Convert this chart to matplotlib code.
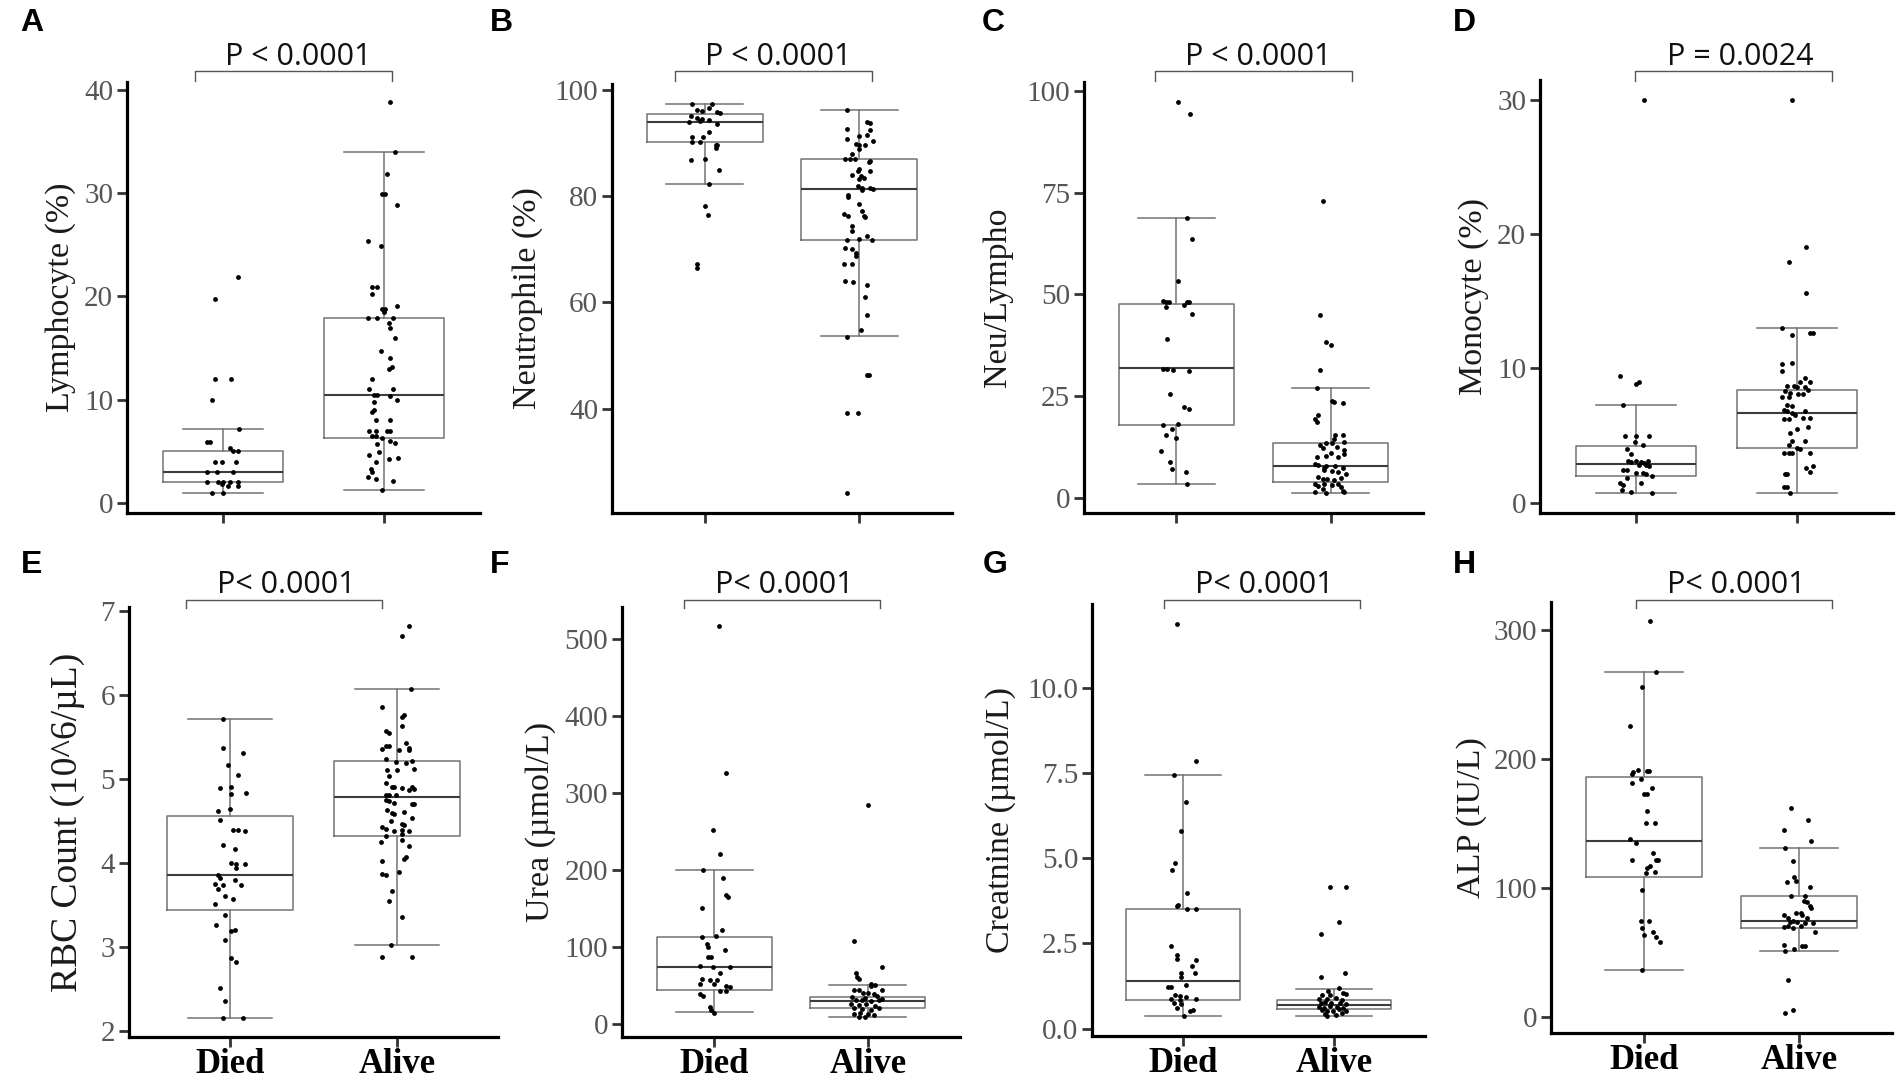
import matplotlib
matplotlib.use("Agg")
import matplotlib.pyplot as plt

plt.rcParams["font.family"] = "Liberation Serif"

W, H = 1902, 1079
groups = ["Died", "Alive"]

# A  Lymphocyte (%)
lym_died = [21.9, 19.8, 12.0, 12.0, 10.0, 7.1, 5.9, 5.9, 5.3, 5.0, 5.0, 3.9, 3.9, 3.9,
            3.0, 3.0, 3.0, 2.0, 2.0, 2.0, 2.0, 2.0, 1.8, 1.6, 1.6, 0.9, 0.9]
lym_died_jit = [0.09, -0.05, -0.05, 0.05, -0.07, 0.10, -0.10, -0.08, 0.04, 0.06, 0.09, -0.05, -0.01, 0.08,
                -0.10, -0.04, 0.06, -0.10, -0.03, 0.00, 0.04, 0.09, -0.01, 0.03, 0.09, -0.07, 0.00]
lym_alive = [38.9, 34.0, 31.9, 29.9, 29.9, 28.9, 25.4, 24.9, 20.9, 20.9, 20.2, 19.1, 18.8, 18.8, 18.5,
             17.9, 17.9, 17.9, 17.4, 16.9, 16.0, 14.7, 14.0, 13.2, 13.0, 12.0, 11.0, 11.0, 10.4, 10.4,
             10.3, 10.0, 9.8, 9.0, 8.8, 8.0, 8.0, 7.0, 7.0, 7.0, 7.0, 6.5, 6.5, 6.3, 6.0, 5.8, 5.7,
             4.9, 4.6, 4.3, 4.2, 3.9, 3.3, 3.0, 2.5, 2.3, 2.1, 1.2]
lym_alive_jit = [0.04, 0.07, 0.02, -0.01, 0.01, 0.08, -0.10, -0.02, -0.07, -0.04, -0.07, 0.08, -0.01, 0.01, 0.00,
                 -0.10, -0.04, 0.06, 0.03, 0.04, 0.07, -0.02, 0.04, 0.05, 0.03, -0.07, -0.09, 0.06, -0.06, -0.04,
                 0.04, 0.08, -0.06, -0.06, -0.07, -0.05, 0.04, -0.09, -0.05, 0.02, 0.04, -0.07, -0.05, -0.01, 0.04, 0.07, -0.04,
                 -0.03, -0.09, 0.09, 0.03, -0.05, -0.08, -0.07, -0.10, -0.05, 0.06, -0.01]
lym_box = [[0.9, 2.0, 3.0, 5.0, 7.1], [1.2, 6.3, 10.4, 17.9, 34.0]]

# B  Neutrophile (%)
neu_died = [97.4, 97.3, 96.3, 96.1, 96.5, 95.9, 95.6, 95.0, 94.7, 94.6, 94.4, 94.0, 94.1, 93.6, 92.0,
            91.1, 91.1, 90.2, 90.1, 89.7, 89.6, 89.1, 86.8, 87.0, 84.9, 82.2, 78.2, 76.4, 67.3, 66.5]
neu_died_jit = [-0.08, 0.05, -0.05, -0.02, 0.03, 0.08, 0.10, -0.09, -0.05, -0.02, 0.03, -0.10, -0.03, 0.08, 0.03,
                -0.08, -0.01, -0.08, -0.03, 0.07, 0.08, 0.07, -0.09, 0.00, 0.09, 0.03, 0.00, 0.02, -0.05, -0.05]
neu_alive = [96.2, 94.0, 93.8, 92.6, 92.5, 91.4, 91.5, 90.8, 89.9, 89.6, 89.7, 90.4, 88.0, 88.8, 87.0,
             86.9, 86.9, 86.7, 86.4, 85.1, 84.7, 84.7, 84.0, 83.7, 83.5, 83.3, 81.9, 81.6, 81.6, 81.4,
             81.1, 80.3, 79.8, 78.6, 77.3, 76.3, 76.0, 76.6, 76.3, 74.3, 73.4, 72.6, 71.8, 71.9, 71.8,
             70.3, 70.0, 69.4, 68.7, 67.3, 67.3, 64.1, 63.8, 63.2, 61.0, 57.6, 54.8, 53.5, 46.3, 46.3,
             39.2, 39.2, 24.1]
neu_alive_jit = [-0.08, 0.05, 0.07, -0.08, 0.07, 0.00, 0.05, -0.08, -0.02, 0.00, 0.04, 0.09, -0.05, 0.00, -0.09,
                 -0.06, -0.03, 0.07, 0.06, 0.00, 0.07, -0.01, -0.05, 0.01, 0.03, 0.00, -0.01, 0.02, 0.07, 0.09,
                 0.02, -0.07, -0.07, 0.00, 0.02, 0.03, 0.04, -0.10, -0.07, -0.05, -0.05, 0.05, -0.08, 0.00, 0.08,
                 -0.09, -0.05, -0.02, -0.02, -0.10, -0.05, -0.09, -0.04, 0.05, 0.04, 0.05, 0.01, -0.08, 0.05, 0.06,
                 -0.08, -0.01, -0.08]
neu_box = [[82.2, 90.1, 94.0, 95.4, 97.3], [53.7, 71.8, 81.4, 86.9, 96.3]]

# C  Neu/Lympho
nlr_died = [97.4, 94.3, 68.7, 63.7, 53.4, 48.5, 48.1, 48.1, 47.0, 47.4, 48.1, 48.1, 45.1, 39.0, 31.6,
            31.6, 31.4, 31.2, 25.6, 22.3, 21.9, 18.2, 18.0, 16.9, 15.4, 14.8, 11.5, 8.8, 7.0, 6.3, 3.4]
nlr_died_jit = [0.01, 0.09, 0.07, 0.10, 0.01, -0.09, -0.07, -0.05, -0.07, 0.05, 0.07, 0.08, 0.10, -0.06, -0.09,
                -0.06, -0.02, 0.08, -0.04, 0.05, 0.08, 0.01, -0.09, -0.03, -0.07, 0.00, -0.10, -0.04, -0.03, 0.06, 0.07]
nlr_alive = [73.0, 44.9, 38.4, 37.6, 31.4, 27.0, 23.8, 23.5, 23.3, 20.3, 19.4, 18.6, 15.4, 15.4, 14.5,
             13.5, 13.5, 12.5, 13.7, 13.1, 12.2, 11.1, 11.8, 10.4, 10.1, 10.0, 10.7, 8.3, 8.0, 7.4,
             7.8, 7.8, 6.8, 6.6, 6.3, 5.9, 7.4, 5.2, 4.6, 4.6, 4.4, 4.9, 3.4, 3.0, 3.5,
             3.2, 3.4, 2.7, 1.5, 2.1, 1.1, 1.7, 1.5]
nlr_alive_jit = [-0.05, -0.07, -0.03, 0.00, -0.07, -0.09, 0.01, 0.02, 0.08, -0.08, -0.10, -0.09, 0.03, 0.08, 0.02,
                 -0.03, 0.01, 0.04, 0.09, -0.07, -0.05, 0.00, 0.09, -0.03, -0.09, 0.05, 0.09, -0.10, -0.08, -0.04,
                 -0.03, 0.03, -0.04, 0.01, 0.05, 0.10, 0.08, -0.08, -0.05, -0.02, 0.02, 0.07, -0.10, -0.08, -0.04,
                 0.01, 0.05, 0.07, -0.10, -0.05, -0.03, 0.08, 0.09]
nlr_box = [[3.4, 18.0, 32.0, 47.7, 68.7], [1.1, 4.0, 7.8, 13.5, 27.0]]

# D  Monocyte (%)
mon_died = [30.0, 9.4, 8.8, 9.0, 7.3, 5.0, 5.0, 5.0, 4.5, 4.3, 4.0, 3.6, 3.1, 3.0, 3.1, 3.0, 3.1,
            2.95, 2.8, 2.8, 2.75, 2.4, 2.4, 2.2, 2.2, 2.1, 2.0, 1.85, 1.5, 1.5, 1.3, 0.95, 0.8, 0.7]
mon_died_jit = [0.05, -0.10, 0.00, 0.02, -0.08, -0.07, 0.00, 0.08, -0.01, 0.04, -0.06, -0.03, -0.05, -0.03, 0.00, 0.03, 0.07,
                0.05, 0.02, 0.06, 0.08, -0.08, -0.06, 0.00, 0.04, 0.06, 0.10, -0.06, 0.03, -0.10, -0.08, -0.09, -0.03, 0.10]
mon_alive = [30.0, 19.0, 17.9, 15.6, 13.0, 12.5, 12.6, 12.6, 10.4, 10.3, 9.8, 9.3, 9.0, 9.0, 8.7,
             8.7, 8.6, 8.6, 8.4, 8.3, 8.2, 8.1, 8.1, 7.9, 7.9, 7.3, 7.2, 6.9, 6.8, 6.7,
             6.55, 6.8, 6.2, 6.2, 6.3, 6.3, 5.5, 5.65, 5.2, 4.6, 4.6, 4.3, 4.1, 4.0, 3.7,
             3.7, 3.7, 3.7, 2.7, 2.6, 2.3, 2.1, 2.1, 1.2, 1.2, 0.7]
mon_alive_jit = [-0.03, 0.06, -0.05, 0.06, -0.09, -0.03, 0.08, 0.10, -0.03, -0.09, -0.09, 0.05, 0.08, 0.02, -0.06,
                 -0.02, 0.00, 0.05, 0.07, -0.07, -0.04, 0.01, 0.04, -0.09, -0.05, -0.06, -0.03, -0.08, -0.06, -0.03,
                 -0.01, 0.05, -0.08, -0.05, 0.04, 0.08, 0.00, 0.07, -0.04, -0.03, 0.05, -0.05, 0.00, 0.02, -0.08,
                 -0.05, -0.03, 0.08, 0.10, 0.06, 0.08, -0.07, -0.06, -0.08, -0.06, -0.04]
mon_box = [[0.7, 2.0, 2.9, 4.2, 7.3], [0.7, 4.06, 6.7, 8.4, 13.0]]

# E  RBC Count (10^6/uL)
rbc_died = [5.72, 5.37, 5.31, 5.17, 5.05, 4.90, 4.91, 4.82, 4.83, 4.65, 4.62, 4.51, 4.40, 4.39, 4.38,
            4.22, 4.17, 4.00, 3.99, 3.99, 3.94, 3.86, 3.82, 3.80, 3.75, 3.74, 3.74, 3.69, 3.61, 3.57,
            3.51, 3.38, 3.26, 3.19, 3.20, 3.09, 2.87, 2.82, 2.51, 2.36, 2.16, 2.16]
rbc_died_jit = [-0.04, -0.04, 0.08, -0.01, 0.05, -0.06, 0.01, 0.01, 0.10, 0.00, -0.07, -0.06, 0.02, 0.05, 0.09,
                -0.04, 0.03, 0.01, 0.04, 0.09, 0.04, -0.07, -0.06, 0.03, -0.09, -0.04, 0.07, -0.07, -0.03, 0.02,
                -0.09, -0.03, -0.08, 0.01, 0.03, -0.03, 0.01, 0.04, -0.06, -0.03, -0.04, 0.08]
rbc_alive = [6.82, 6.71, 6.07, 5.86, 5.76, 5.74, 5.63, 5.57, 5.55, 5.43, 5.39, 5.39, 5.36, 5.35, 5.35,
             5.37, 5.24, 5.22, 5.20, 5.19, 5.11, 5.11, 5.12, 5.04, 4.95, 4.91, 4.91, 4.91, 4.90, 4.88,
             4.87, 4.81, 4.81, 4.81, 4.75, 4.74, 4.72, 4.70, 4.70, 4.63, 4.60, 4.61, 4.58, 4.54, 4.50,
             4.47, 4.45, 4.43, 4.41, 4.38, 4.38, 4.39, 4.35, 4.32, 4.27, 4.25, 4.20, 4.07, 4.05, 4.02,
             3.90, 3.87, 3.86, 3.67, 3.55, 3.36, 3.03, 2.88, 2.88]
rbc_alive_jit = [0.07, 0.03, 0.08, -0.09, 0.04, 0.03, 0.03, -0.07, -0.05, 0.05, -0.07, -0.05, -0.09, 0.01, 0.07,
                 0.07, -0.07, 0.09, -0.01, 0.05, -0.06, 0.00, 0.10, -0.05, -0.07, 0.09, -0.03, -0.02, 0.03, 0.10,
                 0.07, -0.07, -0.05, -0.01, -0.07, -0.05, -0.02, 0.09, 0.10, -0.06, -0.03, 0.04, -0.02, 0.09, -0.04,
                 0.03, 0.04, -0.09, -0.07, -0.02, 0.07, 0.03, 0.03, -0.07, 0.03, -0.10, 0.07, 0.05, 0.04, -0.09,
                 0.01, -0.09, -0.07, -0.03, -0.05, 0.03, -0.04, -0.09, 0.09]
rbc_box = [[2.16, 3.44, 3.86, 4.56, 5.72], [3.03, 4.32, 4.79, 5.22, 6.07]]

# F  Urea (umol/L)
urea_died = [516, 325, 251, 220, 200, 189, 167, 164, 150, 121, 114, 112, 103, 100, 87, 87, 95, 75,
             73, 66, 74, 58, 57, 56, 51, 51, 49, 47, 42, 38, 36, 42, 22, 18, 14]
urea_died_jit = [0.03, 0.08, -0.01, 0.04, -0.07, 0.06, 0.08, 0.09, -0.08, 0.05, 0.01, -0.08, -0.05, -0.04, -0.04, -0.02, 0.07, -0.09,
                 -0.01, 0.04, 0.10, -0.08, -0.03, 0.02, -0.09, 0.00, 0.08, 0.10, 0.08, -0.09, -0.07, 0.04, -0.03, -0.02, 0.00]
urea_alive = [284, 107, 74, 66, 61, 58, 51, 50, 49, 44, 44, 44, 40, 40, 39, 35, 33, 36, 30, 31,
              29, 31, 32, 26, 24, 26, 23, 20, 19, 18, 20, 13, 14, 12, 11, 9, 8]
urea_alive_jit = [0.00, -0.09, 0.09, -0.08, -0.07, -0.06, 0.02, 0.05, 0.02, -0.09, -0.06, 0.09, -0.03, 0.00, 0.04, -0.10, -0.02, 0.06, -0.08, -0.04,
                  0.02, 0.07, 0.09, -0.11, -0.06, -0.01, 0.05, -0.09, -0.04, 0.02, 0.07, -0.09, -0.05, 0.00, 0.04, -0.06, -0.02]
urea_box = [[15, 44, 73, 113, 200], [8, 20, 29, 34, 50]]

# G  Creatnine (umol/L)
cre_died = [11.9, 7.86, 7.45, 6.67, 5.82, 4.86, 4.66, 3.97, 3.64, 3.60, 3.5, 3.5, 2.42, 2.15, 2.05,
            2.02, 1.85, 1.62, 1.52, 1.62, 1.29, 1.21, 1.21, 0.99, 0.97, 0.94, 0.87, 0.84, 0.87, 0.74,
            0.71, 0.59, 0.54, 0.51, 0.36]
cre_died_jit = [-0.04, 0.09, -0.06, 0.02, -0.01, -0.05, -0.07, 0.03, -0.03, -0.04, 0.03, 0.09, -0.08, -0.04, -0.04,
                0.09, 0.06, -0.01, -0.01, 0.08, 0.02, -0.10, -0.08, -0.05, -0.02, 0.02, -0.08, -0.02, 0.09, -0.06,
                -0.01, -0.04, 0.07, 0.05, 0.01]
cre_alive = [4.17, 4.17, 3.13, 2.79, 1.63, 1.52, 1.09, 1.19, 1.0, 0.99, 1.04, 1.01, 0.87, 0.87, 0.89,
             0.84, 0.74, 0.77, 0.74, 0.74, 0.71, 0.64, 0.61, 0.67, 0.64, 0.61, 0.54, 0.51, 0.51, 0.57,
             0.51, 0.43, 0.40, 0.46, 0.38]
cre_alive_jit = [-0.03, 0.08, 0.03, -0.09, 0.07, -0.09, -0.04, 0.03, -0.08, -0.03, 0.06, 0.08, -0.10, -0.05, 0.01,
                 0.05, -0.09, -0.06, -0.02, 0.04, 0.08, -0.10, -0.07, -0.03, 0.02, 0.06, -0.08, -0.05, -0.01, 0.03,
                 0.08, -0.06, 0.01, 0.05, -0.05]
cre_box = [[0.36, 0.84, 1.41, 3.5, 7.45], [0.38, 0.57, 0.69, 0.84, 1.17]]

# H  ALP (IU/L)
alp_died = [307, 268, 256, 226, 189, 192, 191, 191, 190, 185, 182, 178, 173, 173, 160, 151, 151, 138,
            135, 127, 122, 122, 122, 117, 116, 113, 112, 99, 75, 75, 69, 66, 64, 62, 58, 37]
alp_died_jit = [0.04, 0.08, -0.01, -0.09, -0.08, -0.04, 0.02, 0.03, -0.07, -0.02, -0.08, 0.05, 0.00, 0.02, 0.02, 0.01, 0.07, -0.09,
                -0.05, 0.06, 0.09, 0.08, -0.08, 0.04, 0.02, 0.07, 0.01, -0.01, -0.02, 0.03, -0.01, 0.06, 0.00, 0.08, 0.10, -0.01]
alp_alive = [162, 153, 145, 137, 131, 121, 109, 106, 105, 101, 94, 94, 90, 89, 86, 85, 79, 77, 81, 81,
             79, 77, 74, 75, 74, 73, 73, 70, 71, 69, 71, 66, 56, 53, 55, 55, 51, 29, 6, 3]
alp_alive_jit = [-0.05, 0.06, -0.10, 0.08, -0.09, -0.04, -0.03, -0.02, -0.08, 0.07, -0.05, 0.04, 0.03, 0.05, 0.07, 0.08, -0.10, -0.07, -0.02, 0.01,
                 0.02, 0.05, -0.06, -0.04, -0.01, 0.04, 0.09, -0.10, -0.07, -0.04, 0.01, 0.10, -0.10, -0.03, 0.02, 0.04, -0.09, -0.07, -0.04, -0.09]
alp_box = [[37, 109, 137, 186, 268], [51, 69, 75, 94, 131]]

p_texts = ["P < 0.0001", "P < 0.0001", "P < 0.0001", "P = 0.0024",
           "P< 0.0001", "P< 0.0001", "P< 0.0001", "P< 0.0001"]

# layout: axes box in pixels (left, top, right, bottom), letter x, bracket x range, text centre x
panels = [
    dict(letter="A", box=(127, 82, 480, 513), ylim=(-1.0, 40.8), yticks=[0, 10, 20, 30, 40],
         ylabel="Lymphocyte (%)", died=lym_died, dj=lym_died_jit, alive=lym_alive, aj=lym_alive_jit,
         stats=lym_box, lx=20, br=(195, 392), tx=298, row=0, lpad=6, lsize=24.5),
    dict(letter="B", box=(612, 84, 952, 513), ylim=(20.4, 101.1), yticks=[40, 60, 80, 100],
         ylabel="Neutrophile (%)", died=neu_died, dj=neu_died_jit, alive=neu_alive, aj=neu_alive_jit,
         stats=neu_box, lx=490, br=(675, 872), tx=778, row=0, lpad=8, lsize=24.5),
    dict(letter="C", box=(1084, 82, 1423, 513), ylim=(-3.7, 102.2), yticks=[0, 25, 50, 75, 100],
         ylabel="Neu/Lympho", died=nlr_died, dj=nlr_died_jit, alive=nlr_alive, aj=nlr_alive_jit,
         stats=nlr_box, lx=982, br=(1155, 1352), tx=1258, row=0, lpad=10, lsize=24.5),
    dict(letter="D", box=(1540, 80, 1893, 513), ylim=(-0.77, 31.47), yticks=[0, 10, 20, 30],
         ylabel="Monocyte (%)", died=mon_died, dj=mon_died_jit, alive=mon_alive, aj=mon_alive_jit,
         stats=mon_box, lx=1453, br=(1635, 1832), tx=1740, row=0, lpad=6, lsize=24.5),
    dict(letter="E", box=(129, 607, 498, 1037), ylim=(1.93, 7.05), yticks=[2, 3, 4, 5, 6, 7],
         ylabel="RBC Count (10^6/µL)", died=rbc_died, dj=rbc_died_jit, alive=rbc_alive, aj=rbc_alive_jit,
         stats=rbc_box, lx=21, br=(186, 382), tx=286, row=1, lpad=11, lsize=27),
    dict(letter="F", box=(622, 607, 960, 1037), ylim=(-17.4, 541), yticks=[0, 100, 200, 300, 400, 500],
         ylabel="Urea (µmol/L)", died=urea_died, dj=urea_died_jit, alive=urea_alive, aj=urea_alive_jit,
         stats=urea_box, lx=490, br=(684, 880), tx=784, row=1, lpad=6, lsize=24.5),
    dict(letter="G", box=(1092, 604, 1425, 1036), ylim=(-0.22, 12.48), yticks=[0, 2.5, 5, 7.5, 10],
         ylabel="Creatnine (µmol/L)", died=cre_died, dj=cre_died_jit, alive=cre_alive, aj=cre_alive_jit,
         stats=cre_box, lx=983, br=(1164, 1360), tx=1264, row=1, lpad=8, lsize=24.5),
    dict(letter="H", box=(1551, 602, 1892, 1033), ylim=(-12.2, 322), yticks=[0, 100, 200, 300],
         ylabel="ALP (IU/L)", died=alp_died, dj=alp_died_jit, alive=alp_alive, aj=alp_alive_jit,
         stats=alp_box, lx=1453, br=(1636, 1832), tx=1736, row=1, lpad=5, lsize=24.5),
]

fig = plt.figure(figsize=(W / 100, H / 100), dpi=100)
fig.patch.set_facecolor("white")

# overlay in pixel coordinates for letters, brackets and p-values
over = fig.add_axes([0, 0, 1, 1], zorder=5)
over.set_xlim(0, W)
over.set_ylim(H, 0)
over.axis("off")

grey = "#737373"

for i, p in enumerate(panels):
    l, t, r, b = p["box"]
    ax = fig.add_axes([l / W, 1 - b / H, (r - l) / W, (b - t) / H])

    stats = [dict(whislo=s[0], q1=s[1], med=s[2], q3=s[3], whishi=s[4], fliers=[]) for s in p["stats"]]
    ax.bxp(stats, positions=[1, 2], widths=0.75, capwidths=0.5, showfliers=False,
           boxprops=dict(color=grey, lw=1.1), whiskerprops=dict(color=grey, lw=1.1),
           capprops=dict(color=grey, lw=1.1), medianprops=dict(color="#3c3c3c", lw=1.5))

    ax.scatter([1 + j for j in p["dj"]], p["died"], s=12, c="black", lw=0, zorder=3)
    ax.scatter([2 + j for j in p["aj"]], p["alive"], s=12, c="black", lw=0, zorder=3)

    ax.set_xlim(0.4, 2.6)
    ax.set_ylim(*p["ylim"])
    ax.set_yticks(p["yticks"])
    if p["letter"] == "G":
        ax.set_yticklabels(["%.1f" % v for v in p["yticks"]])
    ax.set_xticks([1, 2])
    if p["row"] == 1:
        ax.set_xticklabels(groups, fontsize=25, fontweight="bold", color="black")
    else:
        ax.set_xticklabels(["", ""])

    for side in ["top", "right"]:
        ax.spines[side].set_visible(False)
    for side in ["left", "bottom"]:
        ax.spines[side].set_linewidth(2.3)
        ax.spines[side].set_color("black")
    ax.tick_params(axis="y", length=7, width=2.0, color="#333333", labelsize=21,
                   labelcolor="#555555", pad=3)
    ax.tick_params(axis="x", length=7, width=2.0, color="#333333", pad=1)
    ax.set_ylabel(p["ylabel"], fontsize=p["lsize"], color="#1a1a1a", labelpad=p["lpad"])
    ax.set_facecolor("none")

    # panel letter
    base = 31 if p["row"] == 0 else 573
    over.text(p["lx"], base, p["letter"], fontsize=23, fontweight="bold",
              family="Liberation Sans", va="baseline", ha="left")

    # significance bracket
    y0, y1 = (71, 81) if p["row"] == 0 else (600, 608)
    x0, x1 = p["br"]
    over.plot([x0, x0, x1, x1], [y1, y0, y0, y1], color="#555555", lw=1.0)
    ty = 65 if p["row"] == 0 else 593
    over.text(p["tx"], ty, p_texts[i], fontsize=22, family="Open Sans",
              ha="center", va="baseline", color="#111111")

fig.savefig("out.png", dpi=100, facecolor="white")
